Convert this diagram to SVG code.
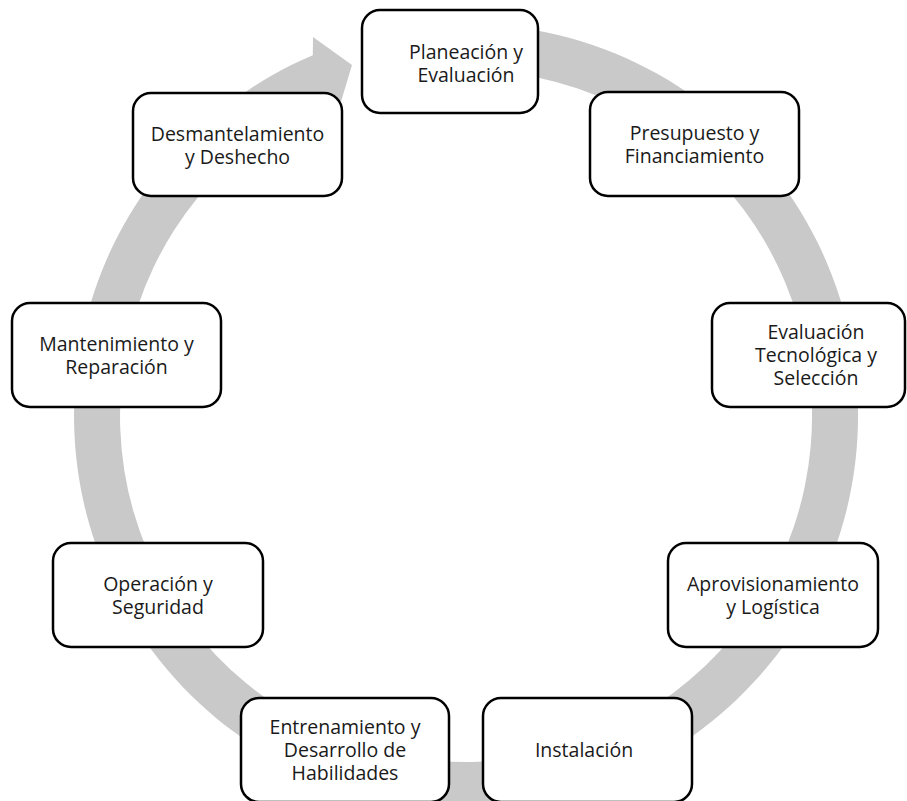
<svg xmlns="http://www.w3.org/2000/svg" width="907" height="801" viewBox="0 0 907 801">
<style>
.box{fill:#ffffff;stroke:#000000;stroke-width:2.5}
.t{font-family:"Open Sans","Noto Sans","DejaVu Sans",sans-serif;font-size:19.5px;fill:#1a1a1a;text-anchor:middle}
.ring{fill:#c9c9c9;stroke:none}
</style>
<rect width="907" height="801" fill="#ffffff"/>
<g id="connectors">
<path class="ring" d="M500.2,25.5 A392,392 0 1 1 312.8,55.2 L313,37 L352,65 L337.5,113.2 L330.8,97.5 A346,346 0 1 0 496.2,71.3 Z"/>
</g>
<g id="n1"><rect class="box" x="362" y="10" width="176" height="103" rx="18"/><text class="t" x="466" y="59">Planeación y</text><text class="t" x="466" y="82">Evaluación</text></g>
<g id="n2"><rect class="box" x="590" y="92" width="209" height="104" rx="18"/><text class="t" x="694.5" y="139.5">Presupuesto y</text><text class="t" x="694.5" y="162.5">Financiamiento</text></g>
<g id="n3"><rect class="box" x="712" y="303" width="193" height="104" rx="18"/><text class="t" x="816" y="339">Evaluación</text><text class="t" x="816" y="362">Tecnológica y</text><text class="t" x="816" y="385">Selección</text></g>
<g id="n4"><rect class="box" x="668" y="543" width="210" height="104" rx="18"/><text class="t" x="773" y="590.5">Aprovisionamiento</text><text class="t" x="773" y="613.5">y Logística</text></g>
<g id="n5"><rect class="box" x="483" y="698" width="209" height="104" rx="18"/><text class="t" x="584" y="757">Instalación</text></g>
<g id="n6"><rect class="box" x="241" y="698" width="208" height="104" rx="18"/><text class="t" x="345" y="734">Entrenamiento y</text><text class="t" x="345" y="757">Desarrollo de</text><text class="t" x="345" y="780">Habilidades</text></g>
<g id="n7"><rect class="box" x="53" y="543" width="210" height="104" rx="18"/><text class="t" x="158" y="590.5">Operación y</text><text class="t" x="158" y="613.5">Seguridad</text></g>
<g id="n8"><rect class="box" x="12" y="303" width="209" height="104" rx="18"/><text class="t" x="116.5" y="350.5">Mantenimiento y</text><text class="t" x="116.5" y="373.5">Reparación</text></g>
<g id="n9"><rect class="box" x="133" y="93" width="209" height="103" rx="18"/><text class="t" x="237.5" y="140.5">Desmantelamiento</text><text class="t" x="237.5" y="163.5">y Deshecho</text></g>
</svg>
